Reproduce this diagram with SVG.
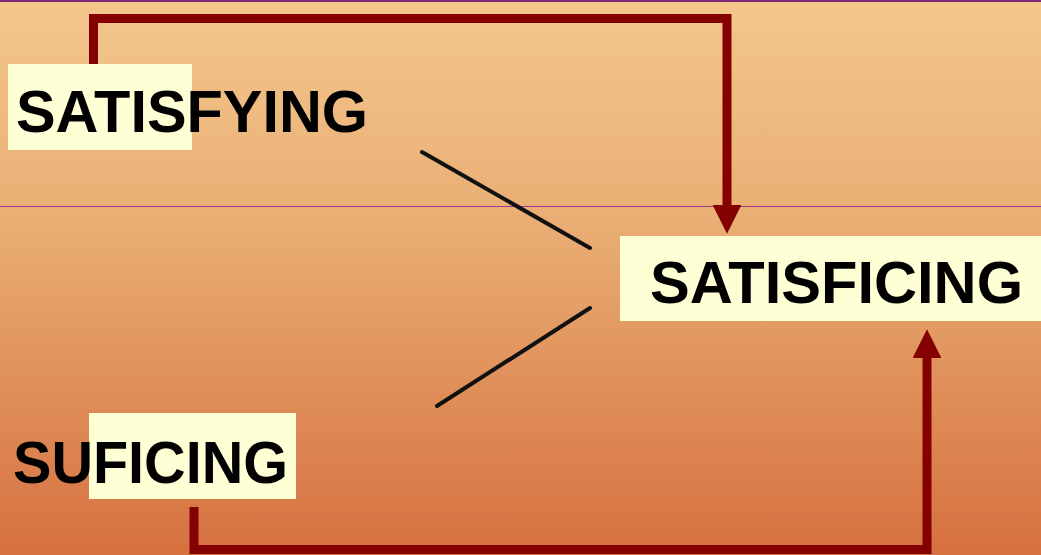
<svg xmlns="http://www.w3.org/2000/svg" width="1041" height="555" viewBox="0 0 1041 555">
<defs>
<linearGradient id="bg" x1="0" y1="0" x2="0" y2="1">
<stop offset="0" stop-color="#F3C78C"/>
<stop offset="0.4" stop-color="#E9AE74"/>
<stop offset="1" stop-color="#D6703F"/>
</linearGradient>
<marker id="ah" viewBox="0 0 10 10" refX="0" refY="5" markerWidth="3.2" markerHeight="3.2" markerUnits="strokeWidth" orient="auto">
<path d="M0,0 L10,5 L0,10 z" fill="#850000"/>
</marker>
<style>
.box{fill:#FFFFD6}
.lbl{font-family:"Liberation Sans",Arial,sans-serif;font-weight:bold;font-size:60px;fill:#000}
.arrow{fill:none;stroke:#850000;stroke-width:9;stroke-linejoin:miter}
.line{stroke:#111;stroke-width:4;stroke-linecap:round}
.rule{stroke:#9B3A8A;stroke-width:1.2}
</style>
</defs>
<rect width="1041" height="555" fill="url(#bg)"/>
<line x1="0" y1="1" x2="1041" y2="1" stroke="#7E2A78" stroke-width="2.2"/>
<line class="rule" x1="0" y1="206.5" x2="1041" y2="206.5"/>
<g id="connectors">
<path class="arrow" d="M93.5,64 V18.5 H727 V205" marker-end="url(#ah)"/>
<path class="arrow" d="M194,507 V549.5 H927 V358" marker-end="url(#ah)"/>
<line class="line" x1="422" y1="152" x2="590" y2="248"/>
<line class="line" x1="590" y1="308" x2="437" y2="406"/>
</g>
<g id="satisfying">
<rect class="box" x="8" y="64" width="184" height="86"/>
<text class="lbl" x="16" y="132" textLength="352" lengthAdjust="spacingAndGlyphs">SATISFYING</text>
</g>
<g id="satisficing">
<rect class="box" x="620" y="236" width="421" height="85"/>
<text class="lbl" x="650" y="303" textLength="373" lengthAdjust="spacingAndGlyphs">SATISFICING</text>
</g>
<g id="suficing">
<rect class="box" x="89" y="413" width="207" height="86"/>
<text class="lbl" x="13" y="483" textLength="275" lengthAdjust="spacingAndGlyphs">SUFICING</text>
</g>
</svg>
